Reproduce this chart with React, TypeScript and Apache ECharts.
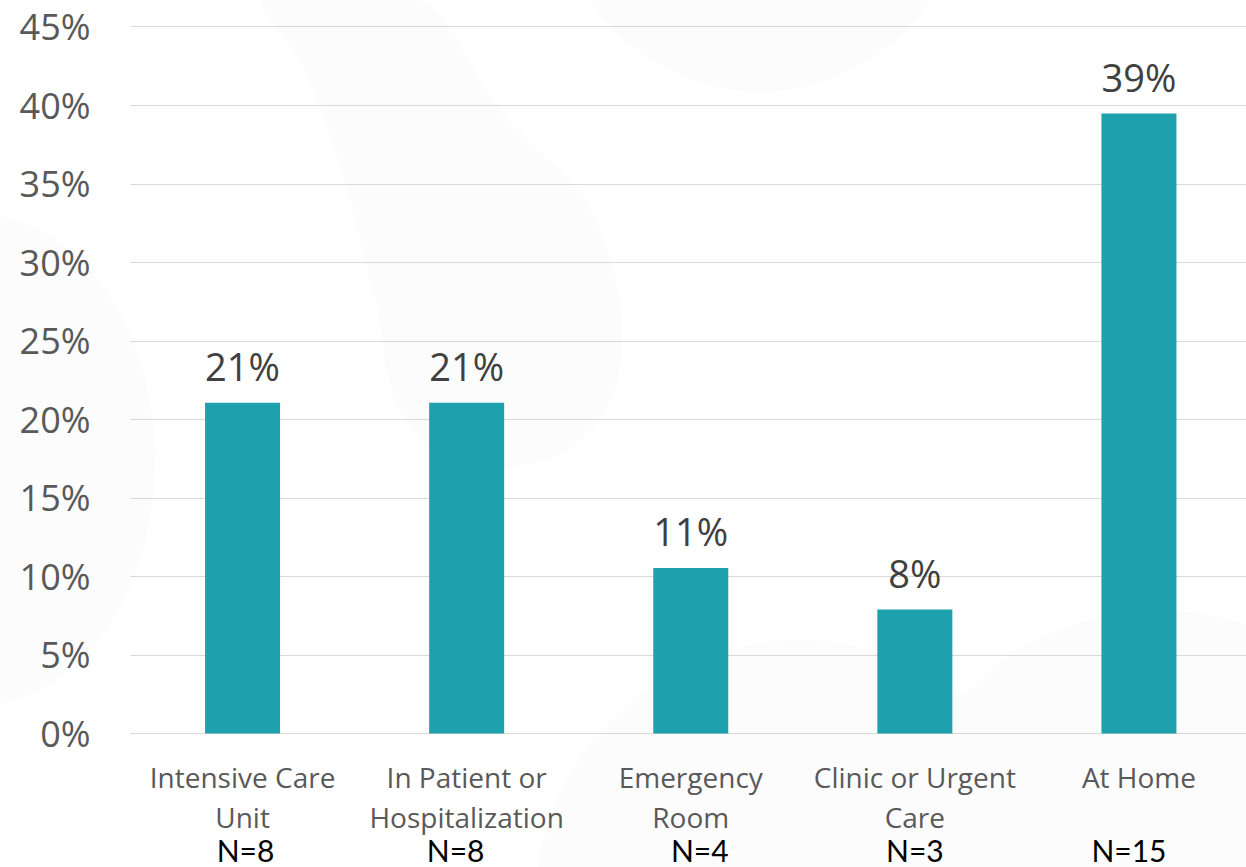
import React, { useEffect, useRef } from "react";
import * as echarts from "echarts";

const categories = [
  "Intensive Care\nUnit",
  "In Patient or\nHospitalization",
  "Emergency\nRoom",
  "Clinic or Urgent\nCare",
  "At Home\n ",
];
const counts = [8, 8, 4, 3, 15];
const percentages = [21.05, 21.05, 10.53, 7.89, 39.47];
const yTicks = { min: 0, max: 45, interval: 5 };

export default function App() {
  const ref = useRef<HTMLDivElement>(null);
  useEffect(() => {
    if (!ref.current) return;
    const chart = echarts.init(ref.current, null, { renderer: "svg" });
    const bg = "#fcfcfc";
    chart.setOption({
      animation: false,
      backgroundColor: "#ffffff",
      graphic: {
        elements: [
          { type: "ellipse", z: -100, silent: true, shape: { cx: -20, cy: 460, rx: 175, ry: 245 }, style: { fill: bg } },
          { type: "circle", z: -100, silent: true, shape: { cx: 760, cy: -111, r: 203 }, style: { fill: bg } },
          {
            type: "polygon",
            z: -100,
            silent: true,
            shape: {
              smooth: 0.3,
              points: [
                [263, 0], [420, 0], [500, 110], [585, 200], [620, 300], [615, 390], [570, 450],
                [500, 468], [440, 455], [395, 400], [375, 300], [335, 150], [300, 60],
              ],
            },
            style: { fill: bg },
          },
          { type: "circle", z: -100, silent: true, shape: { cx: 800, cy: 905, r: 265 }, style: { fill: bg } },
          { type: "circle", z: -100, silent: true, shape: { cx: 1160, cy: 880, r: 270 }, style: { fill: bg } },
        ],
      },
      grid: { left: 130.5, right: 0, top: 26.7, bottom: 133.5, containLabel: false },
      xAxis: {
        type: "category",
        data: categories,
        axisLine: { show: true, lineStyle: { color: "#d9d9d9", width: 1 } },
        axisTick: { show: false },
        axisLabel: {
          interval: 0,
          margin: 23,
          fontSize: 28,
          lineHeight: 40,
          color: "#595959",
          fontFamily: "Open Sans",
          formatter: (value: string, idx: number) => `${value}\n{n${idx}|N=${counts[idx]}}`,
          rich: {
            n0: { fontFamily: "Lato", fontSize: 30, lineHeight: 27, color: "#000000", padding: [0, 0, 0, 6] },
            n1: { fontFamily: "Lato", fontSize: 30, lineHeight: 27, color: "#000000", padding: [0, 22, 0, 0] },
            n2: { fontFamily: "Lato", fontSize: 30, lineHeight: 27, color: "#000000", padding: [0, 0, 0, 18] },
            n3: { fontFamily: "Lato", fontSize: 30, lineHeight: 27, color: "#000000", padding: [0, 0, 0, 0] },
            n4: { fontFamily: "Lato", fontSize: 30, lineHeight: 27, color: "#000000", padding: [0, 20, 0, 0] },
          },
        },
      },
      yAxis: {
        type: "value",
        min: yTicks.min,
        max: yTicks.max,
        interval: yTicks.interval,
        axisLine: { show: false },
        axisTick: { show: false },
        axisLabel: {
          formatter: "{value}%",
          fontSize: 36,
          color: "#595959",
          fontFamily: "Open Sans",
          margin: 40,
        },
        splitLine: { lineStyle: { color: "#d9d9d9", width: 1 } },
      },
      series: [
        {
          type: "bar",
          data: percentages,
          barWidth: 75,
          itemStyle: { color: "#1ea1ad" },
          label: {
            show: true,
            position: "top",
            distance: 18,
            fontSize: 38,
            color: "#404040",
            fontFamily: "Open Sans",
            formatter: (p: any) => `${Math.round(p.value)}%`,
          },
        },
      ],
    });
    return () => chart.dispose();
  }, []);
  return (
    <div
      ref={ref}
      style={{ position: "fixed", left: 0, top: 0, width: 1251, height: 867 }}
    />
  );
}
